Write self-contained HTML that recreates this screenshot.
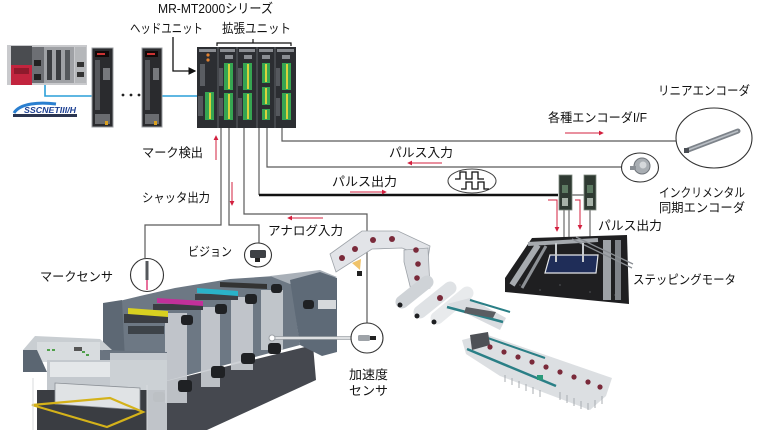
<!DOCTYPE html>
<html><head><meta charset="utf-8">
<style>
html,body{margin:0;padding:0;background:#fff;}
body{width:765px;height:430px;overflow:hidden;}
svg{display:block;}
text{font-family:"Liberation Sans","Noto Sans CJK JP",sans-serif;fill:#111;}
</style></head>
<body>
<svg width="765" height="430" viewBox="0 0 765 430" xmlns="http://www.w3.org/2000/svg">
<defs>
<marker id="ah" viewBox="0 0 6 6" refX="5" refY="3" markerWidth="5" markerHeight="5" orient="auto"><path d="M0,0 L6,3 L0,6 z" fill="#d3203f"/></marker>
<marker id="bk" viewBox="0 0 6 6" refX="5" refY="3" markerWidth="6" markerHeight="6" orient="auto"><path d="M0,0 L6,3 L0,6 z" fill="#111"/></marker>
</defs>

<!-- ===== PLC ===== -->
<rect x="7" y="45" width="80" height="40" fill="#c9cacd"/>
<rect x="11" y="46" width="21" height="19" fill="#4a4c50"/>
<rect x="11" y="65" width="21" height="20" fill="#c2243e"/>
<rect x="14" y="68" width="15" height="6" fill="#8e1a2c"/>
<rect x="32" y="47" width="12" height="36" fill="#6d6f74"/>
<rect x="34" y="60" width="7" height="6" fill="#222"/>
<rect x="34" y="74" width="7" height="6" fill="#222"/>
<rect x="44" y="47" width="30" height="36" fill="#9fa1a5"/>
<rect x="47" y="50" width="5" height="30" fill="#3b3d41"/>
<rect x="56" y="50" width="5" height="30" fill="#3b3d41"/>
<rect x="65" y="50" width="5" height="30" fill="#55585c"/>
<rect x="75" y="47" width="11" height="36" fill="#b5b7ba"/>
<rect x="77" y="62" width="7" height="5" fill="#333"/>
<rect x="77" y="72" width="7" height="5" fill="#333"/>

<!-- blue links -->
<path d="M45,85 V96 H93" fill="none" stroke="#2a9fd8" stroke-width="1.6"/>
<path d="M161,96 H198" fill="none" stroke="#2a9fd8" stroke-width="1.6"/>
<g fill="#222"><circle cx="123" cy="95" r="1.4"/><circle cx="131" cy="95" r="1.4"/><circle cx="139" cy="95" r="1.4"/></g>

<!-- SSCNET logo -->
<path d="M14,113 C20,103 40,102 56,104" fill="none" stroke="#2a7fd0" stroke-width="3"/>
<text x="24" y="113" font-size="8.5" font-weight="bold" font-style="italic" style="fill:#1c3f92" textLength="52" lengthAdjust="spacingAndGlyphs">SSCNETIII/H</text>
<rect x="13" y="114" width="64" height="3" fill="#2b3550"/>

<!-- servo amps -->
<g>
<rect x="92" y="48" width="21" height="79" fill="#2a2b2e" stroke="#9a9ca0" stroke-width="1"/>
<rect x="95" y="51" width="14" height="6" fill="#120a0a"/><rect x="97" y="53" width="8" height="2" fill="#c33"/>
<rect x="95" y="60" width="5" height="50" fill="#55575b"/>
<rect x="103" y="68" width="7" height="12" fill="#77797d"/>
<rect x="95" y="114" width="15" height="10" fill="#6a6c70"/><rect x="105" y="121" width="3" height="4" fill="#d9a020"/>
</g>
<g>
<rect x="142" y="48" width="20" height="79" fill="#2a2b2e" stroke="#9a9ca0" stroke-width="1"/>
<rect x="145" y="51" width="13" height="6" fill="#120a0a"/><rect x="147" y="53" width="8" height="2" fill="#c33"/>
<rect x="145" y="60" width="5" height="50" fill="#55575b"/>
<rect x="153" y="68" width="6" height="12" fill="#77797d"/>
<rect x="145" y="114" width="14" height="10" fill="#6a6c70"/><rect x="154" y="121" width="3" height="4" fill="#d9a020"/>
</g>

<!-- ===== MR-MT2000 module ===== -->
<rect x="197" y="47" width="99" height="81" fill="#2c2e32"/>
<g stroke="#6b6e73" stroke-width="0.8">
<line x1="218" y1="47" x2="218" y2="128"/><line x1="237" y1="47" x2="237" y2="128"/>
<line x1="257" y1="47" x2="257" y2="128"/><line x1="275" y1="47" x2="275" y2="128"/>
</g>
<g fill="#8a8d92">
<rect x="199" y="49" width="17" height="3"/><rect x="220" y="49" width="15" height="3"/><rect x="239" y="49" width="16" height="3"/><rect x="259" y="49" width="14" height="3"/><rect x="277" y="49" width="17" height="3"/>
<rect x="225" y="55" width="8" height="4"/><rect x="244" y="55" width="8" height="4"/><rect x="262" y="55" width="8" height="4"/><rect x="282" y="55" width="8" height="4"/>
</g>
<circle cx="208" cy="55" r="1.6" fill="#e08030"/><circle cx="208" cy="60" r="1.6" fill="#e08030"/>
<g fill="#5a5d62"><rect x="200" y="64" width="5" height="22"/></g>
<g fill="#36a552">
<rect x="205" y="92" width="9" height="28"/>
<rect x="224" y="63" width="9" height="27"/><rect x="224" y="93" width="9" height="27"/>
<rect x="243" y="63" width="9" height="27"/><rect x="243" y="93" width="9" height="27"/>
<rect x="262" y="63" width="8" height="20"/><rect x="262" y="87" width="8" height="18"/><rect x="262" y="109" width="8" height="11"/>
<rect x="282" y="63" width="9" height="27"/><rect x="282" y="93" width="9" height="27"/>
</g>
<g fill="#d9d33b">
<rect x="209" y="93" width="2" height="26"/>
<rect x="228" y="64" width="2" height="25"/><rect x="228" y="94" width="2" height="25"/>
<rect x="247" y="64" width="2" height="25"/><rect x="247" y="94" width="2" height="25"/>
<rect x="265" y="64" width="2" height="18"/><rect x="265" y="88" width="2" height="16"/><rect x="265" y="110" width="2" height="9"/>
<rect x="286" y="64" width="2" height="25"/><rect x="286" y="94" width="2" height="25"/>
</g>
<g fill="#55585d"><rect x="219" y="68" width="4" height="18"/><rect x="238" y="68" width="4" height="18"/><rect x="276" y="68" width="4" height="18"/><rect x="219" y="98" width="4" height="18"/><rect x="238" y="98" width="4" height="18"/><rect x="276" y="98" width="4" height="18"/><rect x="198" y="96" width="5" height="20"/></g>

<!-- bracket and head arrow -->
<path d="M217,46 V43 H291 V46 M253,43 V39" fill="none" stroke="#111" stroke-width="1.2"/>
<path d="M173,37 V71 H195" fill="none" stroke="#111" stroke-width="1.3" marker-end="url(#bk)"/>

<!-- ===== signal lines ===== -->
<g fill="none" stroke="#5a5a5a" stroke-width="1.2">
<path d="M221,128 V225 H145 V258"/>
<path d="M229,128 V225 H259 V243"/>
<path d="M244,128 V214 H367 V323"/>
<path d="M267,128 V167 H622"/>
<path d="M282,128 V141 H676"/>
<path d="M259,128 V195"/>
<path d="M572,195 H584"/>
</g>
<path d="M259,195 H558" fill="none" stroke="#111" stroke-width="2.6"/>

<!-- pulse ellipse -->
<ellipse cx="472" cy="181" rx="24" ry="12" fill="#fff" stroke="#444" stroke-width="1"/>
<path d="M455,179 H460 V172 H466 V179 H472 V172 H478 V179 H484" fill="none" stroke="#111" stroke-width="1.3"/>
<path d="M461,189 H466 V182 H472 V189 H478 V182 H484 V189 H489" fill="none" stroke="#111" stroke-width="1.3"/>

<!-- red arrows -->
<g fill="none" stroke="#d3203f" stroke-width="1" marker-end="url(#ah)">
<path d="M216,160 V136"/>
<path d="M232,182 V205"/>
<path d="M442,163 H408"/>
<path d="M350,192 H386"/>
<path d="M323,218 H288"/>
<path d="M565,133 H603"/>
<path d="M548,200 H557 V231"/>
<path d="M575,200 H580 V229"/>
</g>

<!-- ===== encoders ===== -->
<ellipse cx="714" cy="138" rx="38" ry="30" fill="#fff" stroke="#333" stroke-width="1.1"/>
<path d="M688,150 L738,131" stroke="#7d838a" stroke-width="5" stroke-linecap="round"/>
<path d="M688,150 L738,131" stroke="#b9bec4" stroke-width="1.5"/>
<rect x="684" y="148" width="5" height="5" fill="#4a4e54"/>
<ellipse cx="640" cy="167.5" rx="18.5" ry="14.5" fill="#fff" stroke="#333" stroke-width="1.1"/>
<circle cx="642" cy="166" r="8" fill="#a9aeb3" stroke="#70757b" stroke-width="1"/>
<rect x="630" y="166" width="6" height="4" fill="#8a8f95"/>
<circle cx="643" cy="165" r="3.5" fill="#d5d8db"/>

<!-- ===== drivers & stage ===== -->
<rect x="559" y="175" width="13" height="35" fill="#2f3a32" stroke="#7f8a80" stroke-width="0.8"/>
<rect x="584" y="175" width="12" height="35" fill="#2f3a32" stroke="#7f8a80" stroke-width="0.8"/>
<rect x="562" y="185" width="6" height="8" fill="#5d7a62"/><rect x="587" y="185" width="6" height="8" fill="#5d7a62"/>
<rect x="562" y="198" width="6" height="8" fill="#a7b2a8"/><rect x="587" y="198" width="6" height="8" fill="#a7b2a8"/>
<g stroke="#777" stroke-width="1.3"><line x1="564" y1="210" x2="564" y2="240"/><line x1="569" y1="210" x2="569" y2="240"/><line x1="590" y1="210" x2="590" y2="240"/></g>

<polygon points="532,238 627,235 629,304 505,292 505,278" fill="#1f1f21"/>
<g fill="#55575b" opacity="0.6"><circle cx="520" cy="285" r="1"/><circle cx="540" cy="290" r="1"/><circle cx="615" cy="295" r="1"/><circle cx="620" cy="250" r="1"/><circle cx="560" cy="285" r="1"/><circle cx="590" cy="292" r="1"/></g>
<path d="M538,245 L512,285" stroke="#a7abb0" stroke-width="6"/>
<path d="M546,246 L522,288" stroke="#8d9196" stroke-width="3"/>
<rect x="603" y="240" width="8" height="60" fill="#9ea2a7"/>
<rect x="615" y="240" width="6" height="60" fill="#7f8388"/>
<polygon points="550,255 598,255 596,273 545,273" fill="#1f2d58" stroke="#e5e7ea" stroke-width="1.2"/>
<path d="M528,244 L598,240" stroke="#a5a9ae" stroke-width="4"/>
<path d="M572,239 L632,268 M576,237 L633,264" stroke="#8a8e93" stroke-width="1.3"/>
<g stroke="#c8cbcf" stroke-width="2"><line x1="556" y1="243" x2="556" y2="262"/><line x1="583" y1="243" x2="583" y2="262"/></g>

<!-- ===== web / conveyor ===== -->
<polygon points="330,254 362,231 398,231 430,246 428,258 402,248 372,249 336,272" fill="#e2e4e8" stroke="#9ea3a9" stroke-width="0.8"/>
<polygon points="404,250 428,248 430,288 412,294 404,262" fill="#d8dbdf" stroke="#9ea3a9" stroke-width="0.8"/>
<g fill="#7a2a3a"><circle cx="342" cy="258" r="3"/><circle cx="355" cy="249" r="3"/><circle cx="373" cy="240" r="3"/><circle cx="392" cy="239" r="3"/><circle cx="416" cy="250" r="2.8"/><circle cx="418" cy="264" r="2.8"/><circle cx="417" cy="278" r="2.8"/></g>
<polygon points="352,263 361,259 360,270" fill="#f0c36a"/>
<rect x="357" y="271" width="5" height="5" fill="#222"/>
<!-- rollers -->
<path d="M402,302 L427,282" stroke="#cfd3d7" stroke-width="13" stroke-linecap="round"/>
<path d="M420,312 L450,288" stroke="#dfe2e5" stroke-width="13" stroke-linecap="round"/>
<path d="M437,318 L467,293" stroke="#e8eaec" stroke-width="13" stroke-linecap="round"/>
<g fill="#1e1f22"><circle cx="400" cy="305" r="2.5"/><circle cx="417" cy="316" r="2.5"/><circle cx="434" cy="322" r="2.5"/></g>
<circle cx="440" cy="298" r="3" fill="#7a2a3a"/>
<!-- conveyor -->
<polygon points="447,304 470,298 506,318 500,330" fill="#d9dce0"/>
<path d="M447,307 L503,322" stroke="#2a7f86" stroke-width="2.5"/>
<path d="M470,300 L510,312" stroke="#2a7f86" stroke-width="2"/>
<polygon points="466,307 496,312 493,318 464,313" fill="#5a5d62"/>
<polygon points="462,340 485,334 612,378 606,396 590,410 500,376 466,354" fill="#dcdfe2"/>
<path d="M467,349 L556,386" stroke="#2a7f86" stroke-width="2.5"/>
<path d="M482,336 L545,358" stroke="#2a7f86" stroke-width="2"/>
<polygon points="470,335 488,332 490,345 472,350" fill="#4e5156"/>
<g fill="#7a2a3a"><circle cx="490" cy="347" r="2.6"/><circle cx="504" cy="352" r="2.6"/><circle cx="518" cy="357" r="2.6"/><circle cx="532" cy="362" r="2.6"/><circle cx="546" cy="367" r="2.6"/><circle cx="560" cy="372" r="2.6"/><circle cx="574" cy="377" r="2.6"/><circle cx="588" cy="382" r="2.6"/><circle cx="600" cy="387" r="2.6"/></g>
<g stroke="#a8acb1" stroke-width="1"><path d="M505,375 V382 M512,378 V385 M519,381 V388 M526,384 V391 M533,387 V394 M540,390 V397 M560,392 V400 M567,395 V403 M574,398 V406 M581,401 V409 M588,403 V410 M595,400 V408 M602,396 V404"/></g>
<rect x="537" y="375" width="6" height="5" fill="#2a9a7a"/>

<!-- ===== printing press ===== -->
<polygon points="143,387 313,345 316,380 207,430 147,430" fill="#45484f"/>
<polygon points="103,305 140,296 175,288 230,279 290,275 300,345 143,387 103,360" fill="#6d7884"/>
<polygon points="270,276 320,270 337,277 290,284" fill="#a9b0b8"/>
<polygon points="290,280 320,272 337,278 337,352 322,356 300,345" fill="#5e6a77"/>
<rect x="318" y="300" width="18" height="9" fill="#d6d9dc"/>
<!-- translucent strips -->
<g fill="#c9cdd2" opacity="0.9">
<rect x="165" y="313" width="22" height="90"/>
<rect x="201" y="307" width="19" height="80"/>
<rect x="231" y="297" width="22" height="73"/>
<rect x="261" y="290" width="22" height="60"/>
</g>
<!-- rollers -->
<rect x="124" y="314" width="44" height="9" fill="#3a3d42"/>
<rect x="153" y="304" width="50" height="6" fill="#3a3d42"/>
<rect x="195" y="294" width="43" height="6" fill="#3e4146"/>
<polygon points="128,308 168,311 168,317 128,314" fill="#d8d020"/>
<polygon points="157,298 203,301 203,306 157,303" fill="#c2309a"/>
<polygon points="197,288 238,291 238,296 197,293" fill="#2ab3c9"/>
<polygon points="220,282 267,284 267,289 220,287" fill="#333"/>
<polygon points="103,303 122,300 125,360 103,362" fill="#5d6874"/>
<g fill="#2a2c30" opacity="0.7"><rect x="128" y="326" width="36" height="8"/></g>
<!-- motors -->
<g fill="#1f2124">
<rect x="143" y="362" width="13" height="11" rx="3"/><rect x="153" y="392" width="12" height="10" rx="3"/>
<rect x="178" y="380" width="14" height="12" rx="3"/><rect x="181" y="315" width="12" height="10" rx="3"/>
<rect x="211" y="366" width="14" height="12" rx="3"/><rect x="215" y="304" width="12" height="10" rx="3"/>
<rect x="241" y="353" width="14" height="11" rx="3"/><rect x="245" y="294" width="12" height="10" rx="3"/>
<rect x="268" y="343" width="13" height="11" rx="3"/><rect x="271" y="284" width="11" height="9" rx="3"/>
<rect x="303" y="300" width="11" height="9" rx="3"/>
</g>
<!-- front feeder -->
<polygon points="23,350 35,336 100,339 112,350" fill="#c9ced2"/>
<rect x="37" y="342" width="63" height="20" fill="#d8dcdf"/>
<g fill="#4fa04a"><rect x="47" y="349" width="3" height="2"/><rect x="52" y="349" width="3" height="2"/><rect x="82" y="351" width="3" height="2"/><rect x="86" y="354" width="3" height="2"/></g>
<rect x="74" y="347" width="8" height="4" fill="#555"/>
<polygon points="23,350 37,350 47,372 23,372" fill="#5b6672"/>
<polygon points="100,350 167,352 167,372 100,368" fill="#6a7480"/>
<rect x="47" y="360" width="120" height="30" fill="#c4c9ce"/>
<rect x="50" y="362" width="60" height="15" fill="#e4e7e9"/>
<rect x="110" y="353" width="57" height="77" fill="#cdd1d6" opacity="0.9"/>
<rect x="37" y="390" width="110" height="40" fill="#3a3d42"/>
<polygon points="55,383 140,388 140,410 55,404" fill="#e0e3e5" stroke="#8b9096" stroke-width="0.8"/>
<polygon points="32,405 110,398 143,412 107,427" fill="none" stroke="#d4b21a" stroke-width="2.2"/>
<g stroke="#d8dbde" stroke-width="1"><line x1="33" y1="378" x2="33" y2="430"/><line x1="147" y1="385" x2="147" y2="430"/></g>

<!-- ===== sensor circles ===== -->
<circle cx="147" cy="275" r="16.5" fill="#fff" stroke="#333" stroke-width="1.1"/>
<line x1="147" y1="261" x2="147" y2="280" stroke="#55585c" stroke-width="3"/>
<line x1="147" y1="280" x2="147" y2="290" stroke="#e0407a" stroke-width="1.5"/>
<ellipse cx="258" cy="255" rx="13.5" ry="12" fill="#fff" stroke="#333" stroke-width="1.1"/>
<rect x="250" y="250" width="16" height="8" rx="1.5" fill="#3e4145"/>
<rect x="255" y="258" width="5" height="4" fill="#222"/>
<path d="M273,338 H352" stroke="#9ca1a6" stroke-width="3.5"/>
<path d="M273,338 H352" stroke="#f4f5f6" stroke-width="1.6"/>
<circle cx="272" cy="338" r="3" fill="#fff" stroke="#9ca1a6"/>
<ellipse cx="367" cy="338" rx="16" ry="15" fill="#fff" stroke="#333" stroke-width="1.1"/>
<rect x="358" y="335" width="12" height="6" rx="1.5" fill="#9ea3a8"/>
<rect x="370" y="336" width="6" height="4" fill="#222"/>

<!-- ===== labels ===== -->
<text x="158" y="13" font-size="13" textLength="115" lengthAdjust="spacingAndGlyphs">MR-MT2000シリーズ</text>
<text x="130" y="33" font-size="13" textLength="73" lengthAdjust="spacingAndGlyphs">ヘッドユニット</text>
<text x="222" y="33" font-size="13" textLength="69" lengthAdjust="spacingAndGlyphs">拡張ユニット</text>
<text x="142" y="157" font-size="12.5" textLength="61" lengthAdjust="spacingAndGlyphs">マーク検出</text>
<text x="142" y="202" font-size="12.5" textLength="68" lengthAdjust="spacingAndGlyphs">シャッタ出力</text>
<text x="389" y="157" font-size="12.5" textLength="64" lengthAdjust="spacingAndGlyphs">パルス入力</text>
<text x="332" y="186" font-size="12.5" textLength="65" lengthAdjust="spacingAndGlyphs">パルス出力</text>
<text x="268" y="235" font-size="12.5" textLength="75" lengthAdjust="spacingAndGlyphs">アナログ入力</text>
<text x="188" y="256" font-size="12.5" textLength="44" lengthAdjust="spacingAndGlyphs">ビジョン</text>
<text x="40" y="281" font-size="12.5" textLength="73" lengthAdjust="spacingAndGlyphs">マークセンサ</text>
<text x="349" y="379" font-size="12.5" textLength="39" lengthAdjust="spacingAndGlyphs">加速度</text>
<text x="349" y="395" font-size="12.5" textLength="39" lengthAdjust="spacingAndGlyphs">センサ</text>
<text x="658" y="95" font-size="12.5" textLength="92" lengthAdjust="spacingAndGlyphs">リニアエンコーダ</text>
<text x="548" y="122" font-size="12.5" textLength="99" lengthAdjust="spacingAndGlyphs">各種エンコーダI/F</text>
<text x="659" y="197" font-size="12.5" textLength="86" lengthAdjust="spacingAndGlyphs">インクリメンタル</text>
<text x="659" y="212" font-size="12.5" textLength="86" lengthAdjust="spacingAndGlyphs">同期エンコーダ</text>
<text x="598" y="230" font-size="12.5" textLength="64" lengthAdjust="spacingAndGlyphs">パルス出力</text>
<text x="633" y="284" font-size="12.5" textLength="103" lengthAdjust="spacingAndGlyphs">ステッピングモータ</text>
</svg>
</body></html>
